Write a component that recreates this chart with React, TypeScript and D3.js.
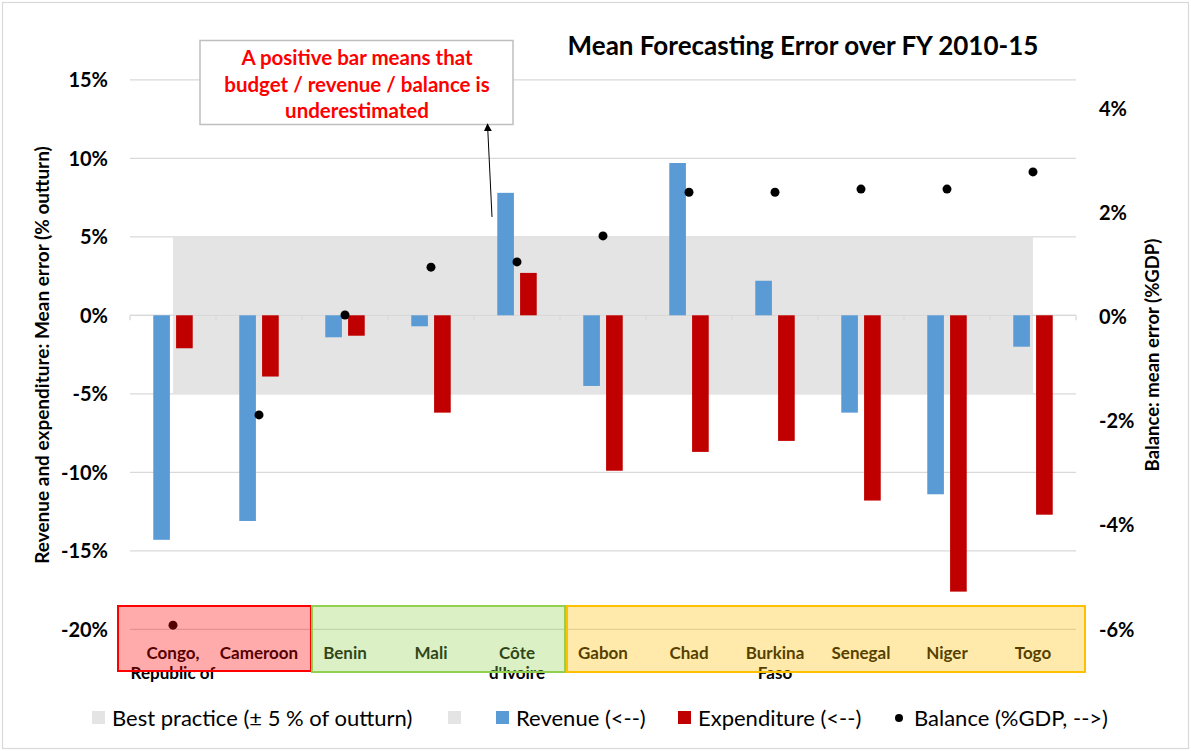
import React from "react";
import * as d3 from "d3";

const categories = ["Congo, Republic of", "Cameroon", "Benin", "Mali", "Côte d'Ivoire", "Gabon", "Chad", "Burkina Faso", "Senegal", "Niger", "Togo"];
const categoryLines = [["Congo,", "Republic of"], ["Cameroon"], ["Benin"], ["Mali"], ["Côte", "d'Ivoire"], ["Gabon"], ["Chad"], ["Burkina", "Faso"], ["Senegal"], ["Niger"], ["Togo"]];
const revenue = [-14.3, -13.1, -1.4, -0.7, 7.8, -4.5, 9.7, 2.2, -6.2, -11.4, -2.0];
const expenditure = [-2.1, -3.9, -1.3, -6.2, 2.7, -9.9, -8.7, -8.0, -11.8, -17.6, -12.7];
const balance = [-5.92, -1.88, 0.04, 0.96, 1.06, 1.56, 2.4, 2.4, 2.46, 2.46, 2.79];
const bestPractice = [5, -5];
const leftTicks = [15, 10, 5, 0, -5, -10, -15, -20];
const rightTicks = [4, 2, 0, -2, -4, -6];
const groups = [
  { from: 0, to: 1, fill: "#ff0000", stroke: "#ff0000" },
  { from: 2, to: 4, fill: "#92d050", stroke: "#92d050" },
  { from: 5, to: 10, fill: "#ffc000", stroke: "#ffc000" },
];

const FONT = "Lato, 'Open Sans', sans-serif";

export default function App() {
  const W = 1191, H = 751;
  const x0 = 130, x1 = 1076;
  const yTop = 79.8, yBot = 629.3;
  const x = d3.scaleBand<string>().domain(categories).range([x0, x1]).paddingInner(0).paddingOuter(0);
  const xs = d3.scaleBand<string>().domain(["rev", "exp"]).range([0, x.bandwidth()]).paddingInner(0.27).paddingOuter(1.02);
  const yL = d3.scaleLinear().domain([-20, 15]).range([yBot, yTop]);
  const yR = d3.scaleLinear().domain([-6, 4.56]).range([yBot, yTop]);
  const cx = (c: string) => (x(c) as number) + x.bandwidth() / 2;
  const bw = xs.bandwidth();

  const area = d3.area<string>().x((c) => cx(c)).y0(yL(bestPractice[1])).y1(yL(bestPractice[0]));

  return (
    <div style={{ position: "fixed", left: 0, top: 0 }}>
      <svg width={W} height={H} style={{ display: "block", fontFamily: FONT }}>
        <rect x={0} y={0} width={W} height={H} fill="#fff" />
        <rect x={2.5} y={2.5} width={W - 5} height={H - 5} fill="none" stroke="#d9d9d9" strokeWidth={1.2} />
        {/* gridlines */}
        {leftTicks.map((t) => (
          <line key={t} x1={x0} x2={x1} y1={yL(t)} y2={yL(t)} stroke="#d9d9d9" strokeWidth={1.3} />
        ))}
        {/* best practice area */}
        <path d={area(categories) as string} fill="#e4e4e4" />
        {/* zero axis ticks */}
        <line x1={x0} x2={x1} y1={yL(0)} y2={yL(0)} stroke="#d9d9d9" strokeWidth={1.3} />
        {d3.range(categories.length + 1).map((i) => {
          const xx = x0 + i * x.bandwidth();
          return <line key={i} x1={xx} x2={xx} y1={yL(0)} y2={yL(0) + 5} stroke="#d9d9d9" strokeWidth={1.3} />;
        })}
        {/* bars */}
        {categories.map((c, i) => (
          <g key={c}>
            <rect x={(x(c) as number) + (xs("rev") as number)} width={bw} y={Math.min(yL(0), yL(revenue[i]))} height={Math.abs(yL(revenue[i]) - yL(0))} fill="#5b9bd5" />
            <rect x={(x(c) as number) + (xs("exp") as number)} width={bw} y={Math.min(yL(0), yL(expenditure[i]))} height={Math.abs(yL(expenditure[i]) - yL(0))} fill="#c00000" />
          </g>
        ))}
        {/* balance dots */}
        {categories.map((c, i) => (
          <circle key={c} cx={cx(c)} cy={yR(balance[i])} r={4.5} fill="#000" />
        ))}
        {/* left ticks */}
        {leftTicks.map((t) => (
          <text key={t} x={108} y={yL(t)} dy="0.36em" textAnchor="end" fontSize={20} fontWeight={700} fill="#000">{t}%</text>
        ))}
        {/* right ticks */}
        {rightTicks.map((t) => (
          <text key={t} x={1099} y={yR(t)} dy="0.36em" textAnchor="start" fontSize={20} fontWeight={700} fill="#000">{t}%</text>
        ))}
        {/* axis titles */}
        <text transform={`translate(42,355) rotate(-90)`} textAnchor="middle" dy="0.35em" fontSize={19} fontWeight={700}>Revenue and expenditure: Mean error (% outturn)</text>
        <text transform={`translate(1153,355) rotate(-90)`} textAnchor="middle" dy="0.35em" fontSize={18.5} fontWeight={700}>Balance: mean error (%GDP)</text>
        {/* category labels */}
        {categories.map((c, i) => (
          <text key={c} x={cx(c)} y={653} textAnchor="middle" fontSize={17} fontWeight={700} fill="#000">
            {categoryLines[i].map((l, j) => (
              <tspan key={j} x={cx(c)} y={653 + j * 20} dy="0.35em">{l}</tspan>
            ))}
          </text>
        ))}
        {/* group boxes */}
        {groups.map((g, i) => {
          const xa = i === 0 ? 118 : x0 + g.from * x.bandwidth() + (i === 1 ? 10 : 7);
          const xb = i === 2 ? 1085 : x0 + (g.to + 1) * x.bandwidth() + (i === 0 ? 9 : 5);
          return (
            <g key={i}>
              <rect x={xa} y={606} width={xb - xa} height={i === 0 ? 65 : 66} fill={g.fill} fillOpacity={0.33} />
              <rect x={xa} y={606} width={xb - xa} height={i === 0 ? 65 : 66} fill="none" stroke={g.stroke} strokeWidth={2} />
            </g>
          );
        })}
        {/* title */}
        <text x={803} y={46} textAnchor="middle" dy="0.35em" fontSize={26} fontWeight={700}>Mean Forecasting Error over FY 2010-15</text>
        {/* annotation */}
        <rect x={200} y={40.5} width={313} height={84} fill="#fff" stroke="#bfbfbf" strokeWidth={1.5} />
        {["A positive bar means that", "budget / revenue / balance is", "underestimated"].map((l, i) => (
          <text key={i} x={357} y={58 + i * 26.5} textAnchor="middle" dy="0.35em" fontSize={20.5} fontWeight={700} fill="#ff0000">{l}</text>
        ))}
        <defs>
          <marker id="arr" viewBox="0 0 10 10" refX={9} refY={5} markerWidth={8} markerHeight={8} orient="auto">
            <path d="M0,0 L10,5 L0,10 z" fill="#000" />
          </marker>
        </defs>
        <line x1={492} y1={217} x2={487.5} y2={124} stroke="#000" strokeWidth={1} markerEnd="url(#arr)" />
        {/* legend */}
        <g fontSize={22} fill="#000">
          <rect x={92} y={711} width={13} height={13} fill="#e4e4e4" />
          <text x={112} y={718} dy="0.35em">Best practice (± 5 % of outturn)</text>
          <rect x={448} y={711} width={13} height={13} fill="#e4e4e4" />
          <rect x={496} y={711} width={13} height={13} fill="#5b9bd5" />
          <text x={516} y={718} dy="0.35em">Revenue (&lt;--)</text>
          <rect x={678} y={711} width={13} height={13} fill="#c00000" />
          <text x={698} y={718} dy="0.35em">Expenditure (&lt;--)</text>
          <circle cx={899} cy={718} r={4} fill="#000" />
          <text x={914} y={718} dy="0.35em">Balance (%GDP, --&gt;)</text>
        </g>
      </svg>
    </div>
  );
}
